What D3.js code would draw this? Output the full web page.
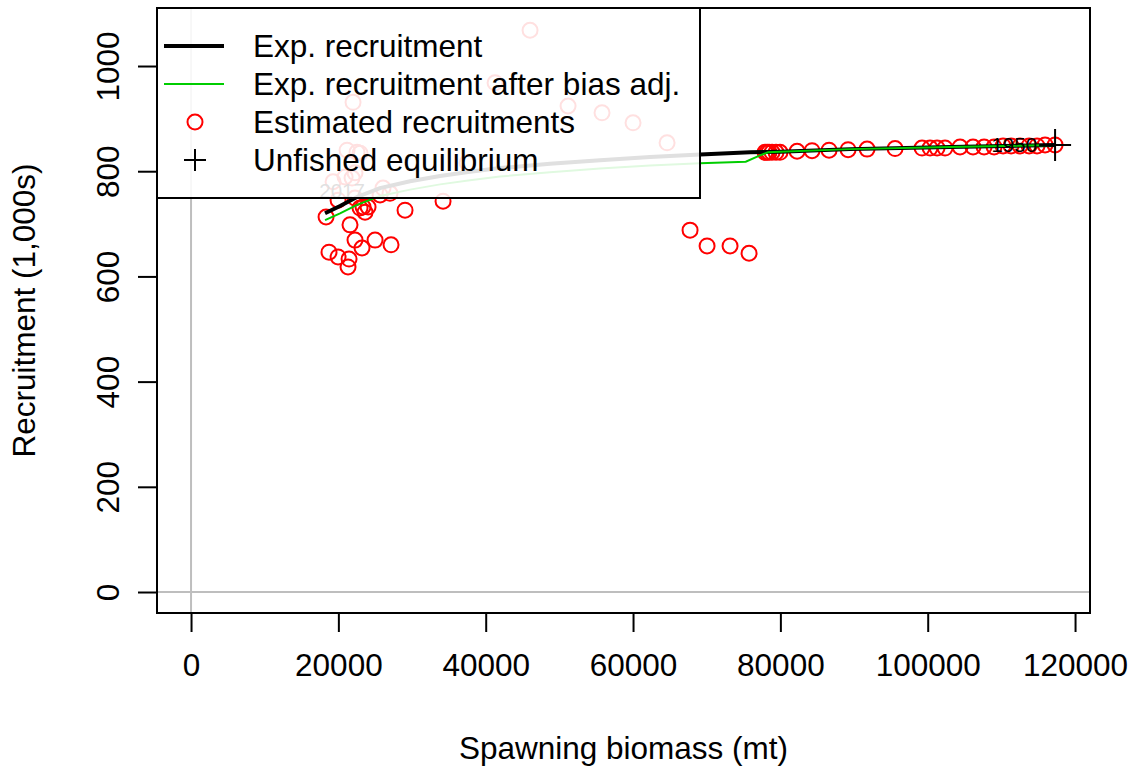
<!DOCTYPE html>
<html><head><meta charset="utf-8">
<script src="https://cdn.jsdelivr.net/npm/d3@7"></script>
<style>body{margin:0;background:#fff}svg{display:block}text{font-family:"Liberation Sans",Arial,sans-serif}</style>
</head><body><svg id="c" width="1133" height="768"></svg>
<script>
// Estimated recruitments (spawning biomass, recruitment)
const ssb = [117290,115930,114840,113760,112540,111320,110230,109010,107650,106150,104390,102350,101270,100320,99230,95570,91770,89190,86610,84300,82270,79950,79410,78870,78460,78190,77920,
 75750,73170,70050,67740,
 64620,60000,55790,51180,46020,41270,37470,
 26060,21990,22530,21180,22940,22260,20910,21860,19280,
 34210,29050,27010,25660,24030,23350,23620,22940,22260,24980,27150,23210,22260,21580,21310,21450,19960,18730,18330,19960];
const rec = [850,850,848,848,848,848,848,846,846,846,846,844,844,844,844,843,842,841,840,839,838,836,836,836,836,836,836,
 644,658,658,688,
 854,892,911,924,1068,968,816,
 768,931,836,840,834,797,789,787,780,
 743,726,758,755,732,732,722,730,749,669,660,654,669,698,618,633,637,646,713,745];
// year labels and index of the point they belong to
const labelYears = ["1950","2017"];
const labelIdx = [0, ssb.length-1];
// Expected recruitment curve
const expSSB = [18190,20230,22530,25660,29730,33800,37870,41940,48730,55520,62310,69100,75890,79960,89460,103030,117290];
const expRec = [720,734,751,768,781,791,799,806,814,821,827,832,836,837,842,846,850];
// Expected recruitment after bias adjustment
const adjSSB = [18190,20230,22530,25660,29730,33800,37870,41940,48730,55520,62310,69100,75300,77240,78330,79960,89460,103030,117290];
const adjRec = [707,720,736,753,765,775,783,790,798,805,811,815,818,830,836,837,842,846,850];
// Unfished equilibrium
const unfished = {ssb:117290, rec:850};
const xTicks = [0,20000,40000,60000,80000,100000,120000];
const yTicks = [0,200,400,600,800,1000];
const legendLabels = ["Exp. recruitment","Exp. recruitment after bias adj.","Estimated recruitments","Unfished equilibrium"];

const svg = d3.select("#c");
const L=157,R=1090,T=8,B=613;
const x = d3.scaleLinear().domain([-4620,122030]).range([L,R]);
const y = d3.scaleLinear().domain([-39.9,1110.3]).range([B,T]);
const FS = 31.5;

// grey reference lines
svg.append("line").attr("x1",x(0)).attr("x2",x(0)).attr("y1",T).attr("y2",B).attr("stroke","#bebebe").attr("stroke-width",2);
svg.append("line").attr("x1",L).attr("x2",R).attr("y1",y(0)).attr("y2",y(0)).attr("stroke","#bebebe").attr("stroke-width",2);

// points
svg.append("g").selectAll("circle").data(ssb).join("circle")
  .attr("cx",(d)=>x(d)).attr("cy",(d,i)=>y(rec[i])).attr("r",7.5)
  .attr("fill","none").attr("stroke","#ff0000").attr("stroke-width",2);

// curves
const line = d3.line().x(d=>x(d[0])).y(d=>y(d[1]));
svg.append("path").attr("d",line(expSSB.map((s,i)=>[s,expRec[i]]))).attr("fill","none").attr("stroke","#000").attr("stroke-width",4);
svg.append("path").attr("d",line(adjSSB.map((s,i)=>[s,adjRec[i]]))).attr("fill","none").attr("stroke","#00cd00").attr("stroke-width",2);

// unfished equilibrium plus
const ux=x(unfished.ssb), uy=y(unfished.rec);
svg.append("path").attr("d",`M${ux-16},${uy}H${ux+16}M${ux},${uy-16}V${uy+16}`).attr("stroke","#000").attr("stroke-width",2);

// year labels
labelYears.forEach((lab,k)=>{
  const i=labelIdx[k];
  const t=svg.append("text").attr("font-size",20.5).attr("fill","#000").text(lab);
  if(k===0){ t.attr("x",x(ssb[i])-18).attr("y",y(rec[i])+7).attr("text-anchor","end"); }
  else { t.attr("x",x(ssb[i])+4).attr("y",y(rec[i])-2).attr("text-anchor","middle"); }
});

// axes
const xa = svg.append("g").attr("transform",`translate(0,${B})`)
  .call(d3.axisBottom(x).tickValues(xTicks).tickFormat(d3.format("d")).tickSize(19).tickSizeOuter(0));
xa.select(".domain").attr("stroke-width",2).attr("d",`M${x(0)},0H${x(120000)}`);
xa.selectAll(".tick line").attr("stroke-width",2);
xa.selectAll(".tick text").attr("font-size",FS).attr("font-family","Liberation Sans").attr("fill","#000").attr("dy",null).attr("y",63);
const ya = svg.append("g").attr("transform",`translate(${L},0)`)
  .call(d3.axisLeft(y).tickValues(yTicks).tickFormat(d3.format("d")).tickSize(19).tickSizeOuter(0));
ya.select(".domain").attr("stroke-width",2).attr("d",`M0,${y(0)}V${y(1000)}`);
ya.selectAll(".tick line").attr("stroke-width",2);
ya.selectAll(".tick text").attr("font-size",FS).attr("font-family","Liberation Sans").attr("fill","#000")
  .attr("x",null).attr("dy",null).attr("text-anchor","middle").attr("transform","translate(-38,0) rotate(-90)");

// box
svg.append("rect").attr("x",L).attr("y",T).attr("width",R-L).attr("height",B-T).attr("fill","none").attr("stroke","#000").attr("stroke-width",2);

// axis titles
svg.append("text").attr("x",(L+R)/2).attr("y",759).attr("text-anchor","middle").attr("font-size",FS).text("Spawning biomass (mt)");
svg.append("text").attr("transform",`translate(35,${(T+B)/2}) rotate(-90)`).attr("text-anchor","middle").attr("font-size",FS).text("Recruitment (1,000s)");

// legend
const lg = svg.append("g");
lg.append("rect").attr("x",L).attr("y",T).attr("width",700-L).attr("height",198-T)
  .attr("fill","#fff").attr("fill-opacity",0.88).attr("stroke","#000").attr("stroke-width",2);
const rows=[46,84,122,160];
lg.append("line").attr("x1",164).attr("x2",224).attr("y1",rows[0]).attr("y2",rows[0]).attr("stroke","#000").attr("stroke-width",4);
lg.append("line").attr("x1",164).attr("x2",224).attr("y1",rows[1]).attr("y2",rows[1]).attr("stroke","#00cd00").attr("stroke-width",2);
lg.append("circle").attr("cx",195).attr("cy",rows[2]).attr("r",7.5).attr("fill","none").attr("stroke","#ff0000").attr("stroke-width",2);
lg.append("path").attr("d",`M184,${rows[3]}H206M195,${rows[3]-11}V${rows[3]+11}`).attr("stroke","#000").attr("stroke-width",2);
lg.selectAll("text.l").data(legendLabels).join("text").attr("class","l")
  .attr("x",253).attr("y",(d,i)=>rows[i]+11).attr("font-size",FS).attr("fill","#000").text(d=>d);
</script></body></html>
